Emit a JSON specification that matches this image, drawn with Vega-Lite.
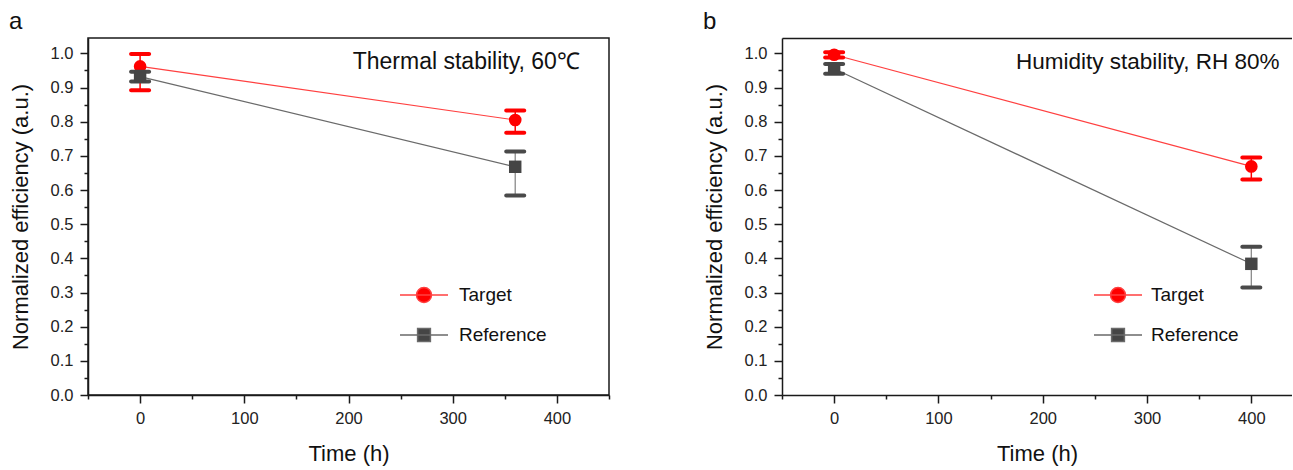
{
  "$schema": "https://vega.github.io/schema/vega-lite/v6.json",
  "padding": {"left": 8, "top": 9, "right": 0, "bottom": 0},
  "background": "white",
  "datasets": {
    "pts": [
      {"panel": "a", "series": "Target", "t": 0, "y": 0.962, "lo": 0.892, "hi": 0.998},
      {"panel": "a", "series": "Target", "t": 360, "y": 0.805, "lo": 0.768, "hi": 0.833},
      {"panel": "a", "series": "Reference", "t": 0, "y": 0.932, "lo": 0.918, "hi": 0.946},
      {"panel": "a", "series": "Reference", "t": 360, "y": 0.668, "lo": 0.584, "hi": 0.713},
      {"panel": "b", "series": "Target", "t": 0, "y": 0.996, "lo": 0.988, "hi": 1.003},
      {"panel": "b", "series": "Target", "t": 400, "y": 0.669, "lo": 0.631, "hi": 0.695},
      {"panel": "b", "series": "Reference", "t": 0, "y": 0.955, "lo": 0.94, "hi": 0.969},
      {"panel": "b", "series": "Reference", "t": 400, "y": 0.384, "lo": 0.315, "hi": 0.434}
    ]
  },
  "data": {"name": "pts"},
  "spacing": 92,
  "hconcat": [
    {
      "width": 521,
      "height": 357,
      "title": {"text": "a", "anchor": "start", "frame": "bounds", "fontSize": 24, "fontWeight": "normal", "font": "Liberation Sans", "color": "#111", "offset": 4},
      "view": {"stroke": "#1a1a1a", "strokeWidth": 1.5},
      "transform": [{"filter": "datum.panel == 'a'"}],
      "encoding": {
        "x": {"field": "t", "type": "quantitative", "title": "Time (h)", "scale": {"domain": [-50, 450], "nice": false, "zero": false},
          "axis": {"values": [-50, 0, 50, 100, 150, 200, 250, 300, 350, 400, 450], "labelExpr": "datum.value % 100 == 0 ? format(datum.value, 'd') : ''", "tickSize": {"condition": {"test": "datum.value % 100 == 0", "value": 8}, "value": 4}, "labelPadding": 7, "titlePadding": 17, "labelOverlap": false, "labelFlush": false}},
        "y": {"field": "y", "type": "quantitative", "title": "Normalized efficiency (a.u.)", "scale": {"domain": [0, 1.045], "nice": false, "zero": false},
          "axis": {"values": [0, 0.05, 0.1, 0.15, 0.2, 0.25, 0.3, 0.35, 0.4, 0.45, 0.5, 0.55, 0.6, 0.65, 0.7, 0.75, 0.8, 0.85, 0.9, 0.95, 1.0], "labelExpr": "abs(datum.value*10 - round(datum.value*10)) < 0.001 ? format(datum.value, '.1f') : ''", "tickSize": {"condition": {"test": "abs(datum.value*10 - round(datum.value*10)) < 0.001", "value": 8}, "value": 4}, "labelPadding": 7, "titlePadding": 18, "labelOverlap": false}}
      },
      "layer": [
        {"mark": {"type": "line", "strokeWidth": 1.2}, "encoding": {"stroke": {"field": "series", "type": "nominal", "scale": {"domain": ["Target", "Reference"], "range": ["#ff4040", "#6a6a6a"]},
          "legend": {"title": null, "orient": "none", "legendX": 325, "legendY": 246, "symbolSize": 400, "rowPadding": 18, "labelOffset": 24, "labelFont": "Liberation Sans", "labelFontSize": 19, "labelColor": "#111", "padding": 0,
            "encoding": {"symbols": {"shape": {"value": {"expr": "datum.value == 'Target' ? 'M-2.4,0H2.4M0.75,0A0.75,0.75 0 1,1 -0.75,0A0.75,0.75 0 1,1 0.75,0Z' : 'M-2.4,0H2.4M-0.64,-0.64H0.64V0.64H-0.64Z'"}}, "fill": {"value": {"expr": "datum.value == 'Target' ? '#ff0000' : '#454545'"}}, "strokeWidth": {"value": 1.5}, "opacity": {"value": 1}}}}}}},
        {"transform": [{"filter": "datum.series == 'Target'"}], "layer": [
          {"mark": {"type": "rule", "color": "#ff0000", "strokeWidth": 1.5}, "encoding": {"y": {"field": "lo", "type": "quantitative", "title": "Normalized efficiency (a.u.)", "scale": {"domain": [0, 1.045], "nice": false, "zero": false}}, "y2": {"field": "hi"}}},
          {"mark": {"type": "tick", "orient": "horizontal", "color": "#ff0000", "size": 22, "thickness": 4, "cornerRadius": 2, "opacity": 1}, "encoding": {"y": {"field": "lo", "type": "quantitative", "title": "Normalized efficiency (a.u.)", "scale": {"domain": [0, 1.045], "nice": false, "zero": false}}}},
          {"mark": {"type": "tick", "orient": "horizontal", "color": "#ff0000", "size": 22, "thickness": 4, "cornerRadius": 2, "opacity": 1}, "encoding": {"y": {"field": "hi", "type": "quantitative", "title": "Normalized efficiency (a.u.)", "scale": {"domain": [0, 1.045], "nice": false, "zero": false}}}},
          {"mark": {"type": "point", "filled": true, "size": 160, "opacity": 1, "shape": "circle", "color": "#ff0000"}, "encoding": {}}
        ]},
        {"transform": [{"filter": "datum.series == 'Reference'"}], "layer": [
          {"mark": {"type": "rule", "color": "#8a8a8a", "strokeWidth": 1.3}, "encoding": {"y": {"field": "lo", "type": "quantitative", "title": "Normalized efficiency (a.u.)", "scale": {"domain": [0, 1.045], "nice": false, "zero": false}}, "y2": {"field": "hi"}}},
          {"mark": {"type": "tick", "orient": "horizontal", "color": "#4a4a4a", "size": 22, "thickness": 4, "cornerRadius": 2, "opacity": 1}, "encoding": {"y": {"field": "lo", "type": "quantitative", "title": "Normalized efficiency (a.u.)", "scale": {"domain": [0, 1.045], "nice": false, "zero": false}}}},
          {"mark": {"type": "tick", "orient": "horizontal", "color": "#4a4a4a", "size": 22, "thickness": 4, "cornerRadius": 2, "opacity": 1}, "encoding": {"y": {"field": "hi", "type": "quantitative", "title": "Normalized efficiency (a.u.)", "scale": {"domain": [0, 1.045], "nice": false, "zero": false}}}},
          {"mark": {"type": "point", "filled": true, "size": 155, "opacity": 1, "shape": "square", "color": "#454545"}, "encoding": {}}
        ]},
        {"transform": [{"filter": "datum.series == 'Target' && datum.t == 0"}],
          "mark": {"type": "text", "align": "right", "baseline": "middle", "fontSize": 23, "font": "Liberation Sans", "color": "#111"},
          "encoding": {"x": {"datum": 422, "type": "quantitative"}, "y": {"datum": 0.974, "type": "quantitative"}, "text": {"value": "Thermal stability, 60℃"}}}
      ]
    },
    {
      "width": 510,
      "height": 357,
      "title": {"text": "b", "anchor": "start", "frame": "bounds", "fontSize": 24, "fontWeight": "normal", "font": "Liberation Sans", "color": "#111", "offset": 4},
      "view": {"stroke": null},
      "transform": [{"filter": "datum.panel == 'b'"}],
      "encoding": {
        "x": {"field": "t", "type": "quantitative", "title": "Time (h)", "scale": {"domain": [-50, 439], "nice": false, "zero": false},
          "axis": {"values": [-50, 0, 50, 100, 150, 200, 250, 300, 350, 400], "labelExpr": "datum.value % 100 == 0 ? format(datum.value, 'd') : ''", "tickSize": {"condition": {"test": "datum.value % 100 == 0", "value": 8}, "value": 4}, "labelPadding": 7, "titlePadding": 17, "labelOverlap": false, "labelFlush": false}},
        "y": {"field": "y", "type": "quantitative", "title": "Normalized efficiency (a.u.)", "scale": {"domain": [0, 1.045], "nice": false, "zero": false},
          "axis": {"values": [0, 0.05, 0.1, 0.15, 0.2, 0.25, 0.3, 0.35, 0.4, 0.45, 0.5, 0.55, 0.6, 0.65, 0.7, 0.75, 0.8, 0.85, 0.9, 0.95, 1.0], "labelExpr": "abs(datum.value*10 - round(datum.value*10)) < 0.001 ? format(datum.value, '.1f') : ''", "tickSize": {"condition": {"test": "abs(datum.value*10 - round(datum.value*10)) < 0.001", "value": 8}, "value": 4}, "labelPadding": 7, "titlePadding": 18, "labelOverlap": false}}
      },
      "resolve": {"axis": {"x": "independent"}},
      "layer": [
        {"layer": [
          {"mark": {"type": "line", "strokeWidth": 1.2}, "encoding": {"stroke": {"field": "series", "type": "nominal", "scale": {"domain": ["Target", "Reference"], "range": ["#ff4040", "#6a6a6a"]},
            "legend": {"title": null, "orient": "none", "legendX": 325, "legendY": 246, "symbolSize": 400, "rowPadding": 18, "labelOffset": 22, "labelFont": "Liberation Sans", "labelFontSize": 19, "labelColor": "#111", "padding": 0,
              "encoding": {"symbols": {"shape": {"value": {"expr": "datum.value == 'Target' ? 'M-2.4,0H2.4M0.75,0A0.75,0.75 0 1,1 -0.75,0A0.75,0.75 0 1,1 0.75,0Z' : 'M-2.4,0H2.4M-0.64,-0.64H0.64V0.64H-0.64Z'"}}, "fill": {"value": {"expr": "datum.value == 'Target' ? '#ff0000' : '#454545'"}}, "strokeWidth": {"value": 1.5}, "opacity": {"value": 1}}}}}}},
          {"transform": [{"filter": "datum.series == 'Target'"}], "layer": [
            {"mark": {"type": "rule", "color": "#ff0000", "strokeWidth": 1.5}, "encoding": {"y": {"field": "lo", "type": "quantitative", "title": "Normalized efficiency (a.u.)", "scale": {"domain": [0, 1.045], "nice": false, "zero": false}}, "y2": {"field": "hi"}}},
            {"mark": {"type": "tick", "orient": "horizontal", "color": "#ff0000", "size": 22, "thickness": 4, "cornerRadius": 2, "opacity": 1}, "encoding": {"y": {"field": "lo", "type": "quantitative", "title": "Normalized efficiency (a.u.)", "scale": {"domain": [0, 1.045], "nice": false, "zero": false}}}},
            {"mark": {"type": "tick", "orient": "horizontal", "color": "#ff0000", "size": 22, "thickness": 4, "cornerRadius": 2, "opacity": 1}, "encoding": {"y": {"field": "hi", "type": "quantitative", "title": "Normalized efficiency (a.u.)", "scale": {"domain": [0, 1.045], "nice": false, "zero": false}}}},
            {"mark": {"type": "point", "filled": true, "size": 160, "opacity": 1, "shape": "circle", "color": "#ff0000"}, "encoding": {}}
          ]},
          {"transform": [{"filter": "datum.series == 'Reference'"}], "layer": [
            {"mark": {"type": "rule", "color": "#8a8a8a", "strokeWidth": 1.3}, "encoding": {"y": {"field": "lo", "type": "quantitative", "title": "Normalized efficiency (a.u.)", "scale": {"domain": [0, 1.045], "nice": false, "zero": false}}, "y2": {"field": "hi"}}},
            {"mark": {"type": "tick", "orient": "horizontal", "color": "#4a4a4a", "size": 22, "thickness": 4, "cornerRadius": 2, "opacity": 1}, "encoding": {"y": {"field": "lo", "type": "quantitative", "title": "Normalized efficiency (a.u.)", "scale": {"domain": [0, 1.045], "nice": false, "zero": false}}}},
            {"mark": {"type": "tick", "orient": "horizontal", "color": "#4a4a4a", "size": 22, "thickness": 4, "cornerRadius": 2, "opacity": 1}, "encoding": {"y": {"field": "hi", "type": "quantitative", "title": "Normalized efficiency (a.u.)", "scale": {"domain": [0, 1.045], "nice": false, "zero": false}}}},
            {"mark": {"type": "point", "filled": true, "size": 155, "opacity": 1, "shape": "square", "color": "#454545"}, "encoding": {}}
          ]}
        ]},
        {"transform": [{"filter": "datum.series == 'Target' && datum.t == 0"}],
          "mark": {"type": "text", "align": "right", "baseline": "middle", "fontSize": 22.5, "font": "Liberation Sans", "color": "#111"},
          "encoding": {"x": {"datum": 427, "type": "quantitative", "scale": {"domain": [-50, 439], "nice": false, "zero": false}, "axis": {"orient": "top", "labels": false, "ticks": false, "domain": true, "title": null}}, "y": {"datum": 0.974, "type": "quantitative"}, "text": {"value": "Humidity stability, RH 80%"}}}
      ]
    }
  ],
  "resolve": {"scale": {"x": "independent", "y": "independent", "stroke": "independent"}},
  "config": {
    "font": "Liberation Sans",
    "axis": {"domainColor": "#1a1a1a", "domainWidth": 1.5, "tickColor": "#1a1a1a", "tickWidth": 1.5, "grid": false, "labelFont": "Liberation Sans", "labelFontSize": 16.5, "labelColor": "#222", "titleFont": "Liberation Sans", "titleFontSize": 22, "titleFontWeight": "normal", "titleColor": "#111"}
  }
}
